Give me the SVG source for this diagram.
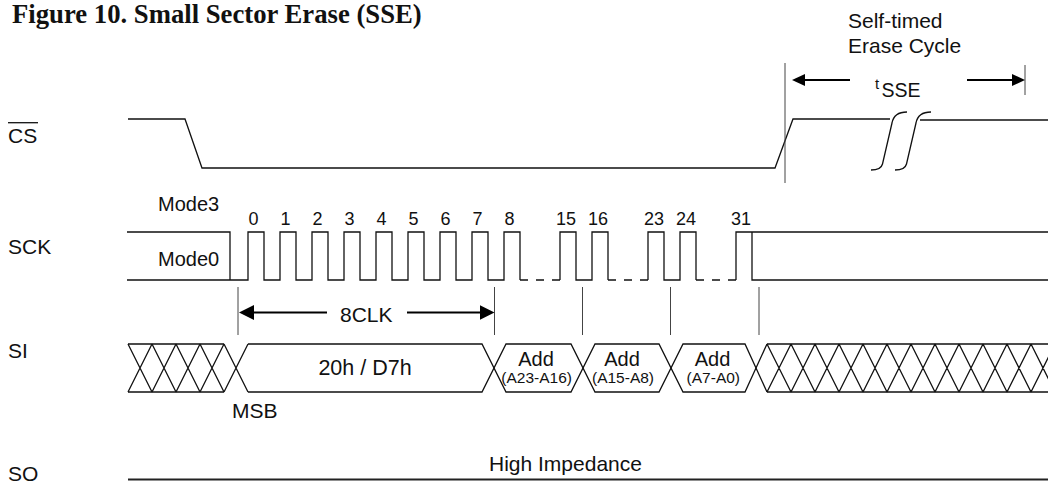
<svg xmlns="http://www.w3.org/2000/svg" width="1048" height="485" viewBox="0 0 1048 485">
<style>
text{font-family:"Liberation Sans",Arial,sans-serif;fill:#111;font-size:21px}
.title{font-family:"Liberation Serif","Times New Roman",serif;font-weight:bold;font-size:26.7px}
.num{font-size:18px;text-anchor:middle}
.mid{text-anchor:middle}
.sub{font-size:15.5px;text-anchor:middle}
.sig{fill:none;stroke:#111;stroke-width:1.3}
.dash{fill:none;stroke:#111;stroke-width:1.3;stroke-dasharray:8 8}
.mark{fill:none;stroke:#444;stroke-width:1}
.arr{fill:none;stroke:#000;stroke-width:2}
</style>
<defs>
<marker id="ah" viewBox="0 0 15 15" refX="11" refY="7.5" markerWidth="15" markerHeight="15" markerUnits="userSpaceOnUse" orient="auto-start-reverse"><path d="M0,0 L15,7.5 L0,15 z" fill="#000"/></marker>
<marker id="ah2" viewBox="0 0 13 12" refX="9" refY="6" markerWidth="13" markerHeight="12" markerUnits="userSpaceOnUse" orient="auto-start-reverse"><path d="M0,0 L13,6 L0,12 z" fill="#000"/></marker>
<clipPath id="clipR"><rect x="760" y="330" width="288" height="70"/></clipPath>
</defs>
<rect width="1048" height="485" fill="#fff"/>
<text class="title" x="12" y="23">Figure 10. Small Sector Erase (SSE)</text>

<g id="cs">
<text x="8" y="143">CS</text>
<line x1="8" y1="122.7" x2="38" y2="122.7" stroke="#111" stroke-width="1.3"/>
<path class="sig" d="M128,119 H185 L202,168 H775 L793,119 H890"/>
<path class="sig" d="M920,120 H1048"/>
<path class="sig" d="M871,170 Q881,170 882.5,164 L892,123 Q894,112 907,112"/>
<path class="sig" d="M895,170 Q905,170 906.5,164 L916,123 Q918,112 931,112"/>
</g>

<g id="timing">
<text x="848" y="28">Self-timed</text>
<text x="848" y="53">Erase Cycle</text>
<text x="875" y="89" style="font-size:15px">t</text>
<text x="881.5" y="97" style="font-size:19.5px">SSE</text>
</g>

<g id="sck">
<text x="8" y="254">SCK</text>
<text x="158" y="211" style="font-size:20px">Mode3</text>
<text x="158" y="266" style="font-size:20px">Mode0</text>
<path class="sig" d="M127,232 H230 V280"/>
<path class="sig" d="M127,280 H248 V232 H264 V280 H280 V232 H296 V280 H312 V232 H328 V280 H344 V232 H360 V280 H376 V232 H392 V280 H408 V232 H424 V280 H440 V232 H456 V280 H472 V232 H488 V280 H504 V232 H520 V280"/>
<path class="sig" d="M560,280 V232 H576 V280 H592 V232 H608 V280"/>
<path class="sig" d="M648,280 V232 H664 V280 H680 V232 H696 V280"/>
<path class="sig" d="M736,280 V232 H752 V280 H1048 M752,232 H1048"/>
<path class="dash" d="M520,280 H560 M608,280 H648 M696,280 H736"/>
<text class="num" x="253.5" y="225">0</text>
<text class="num" x="285.5" y="225">1</text>
<text class="num" x="317.5" y="225">2</text>
<text class="num" x="349.5" y="225">3</text>
<text class="num" x="381.5" y="225">4</text>
<text class="num" x="413.5" y="225">5</text>
<text class="num" x="445.5" y="225">6</text>
<text class="num" x="477.5" y="225">7</text>
<text class="num" x="509.5" y="225">8</text>
<text class="num" x="566" y="225">15</text>
<text class="num" x="598" y="225">16</text>
<text class="num" x="654" y="225">23</text>
<text class="num" x="686" y="225">24</text>
<text class="num" x="741" y="225">31</text>
</g>

<g id="si">
<text x="8" y="358">SI</text>
<path class="sig" d="M128,344 H224 M128,392 H224"/>
<path class="sig" d="M128,344 L152,392 M128,392 L152,344 M152,344 L176,392 M152,392 L176,344 M176,344 L200,392 M176,392 L200,344 M200,344 L224,392 M200,392 L224,344 M224,344 L248,392 M224,392 L248,344"/>
<path class="sig" d="M248,344 H482 L506,392 H571 L595,344 H659 L683,392 H745 L767,344"/>
<path class="sig" d="M248,392 H482 L506,344 H571 L595,392 H659 L683,344 H745 L767,392"/>
<g clip-path="url(#clipR)">
<path class="sig" d="M767,344 H1048 M767,392 H1048"/>
<path class="sig" d="M767,344 l24,48 M767,392 l24,-48 M791,344 l24,48 M791,392 l24,-48 M815,344 l24,48 M815,392 l24,-48 M839,344 l24,48 M839,392 l24,-48 M863,344 l24,48 M863,392 l24,-48 M887,344 l24,48 M887,392 l24,-48 M911,344 l24,48 M911,392 l24,-48 M935,344 l24,48 M935,392 l24,-48 M959,344 l24,48 M959,392 l24,-48 M983,344 l24,48 M983,392 l24,-48 M1007,344 l24,48 M1007,392 l24,-48 M1031,344 l24,48 M1031,392 l24,-48"/>
</g>
<text class="mid" x="365" y="375" style="font-size:21.5px">20h / D7h</text>
<text class="mid" x="536" y="366" style="font-size:20px">Add</text>
<text class="mid" x="622" y="366" style="font-size:20px">Add</text>
<text class="mid" x="712.5" y="366" style="font-size:20px">Add</text>
<text class="sub" x="536.7" y="383">(A23-A16)</text>
<text class="sub" x="623" y="383">(A15-A8)</text>
<text class="sub" x="713.3" y="383">(A7-A0)</text>
<text x="232" y="418">MSB</text>
</g>

<g id="so">
<text x="8" y="481">SO</text>
<text x="489" y="470.7">High Impedance</text>
<line x1="128" y1="479.5" x2="1048" y2="479.5" stroke="#222" stroke-width="2"/>
</g>

<g id="connectors">
<line class="mark" x1="785" y1="63" x2="785" y2="183"/>
<line class="mark" x1="1025" y1="65" x2="1025" y2="95"/>
<line class="mark" x1="238" y1="287" x2="238" y2="335"/>
<line class="mark" x1="494.5" y1="287" x2="494.5" y2="335"/>
<line class="mark" x1="582.5" y1="287" x2="582.5" y2="335"/>
<line class="mark" x1="670.5" y1="287" x2="670.5" y2="335"/>
<line class="mark" x1="759" y1="287" x2="759" y2="335"/>
<line class="arr" x1="327" y1="312.5" x2="243" y2="312.5" marker-end="url(#ah)"/>
<line class="arr" x1="407" y1="312.5" x2="490.5" y2="312.5" marker-end="url(#ah)"/>
<text x="340" y="321.7">8CLK</text>
<line class="arr" x1="850" y1="80" x2="796" y2="80" marker-end="url(#ah2)"/>
<line class="arr" x1="967" y1="80" x2="1021" y2="80" marker-end="url(#ah2)"/>
</g>
</svg>
